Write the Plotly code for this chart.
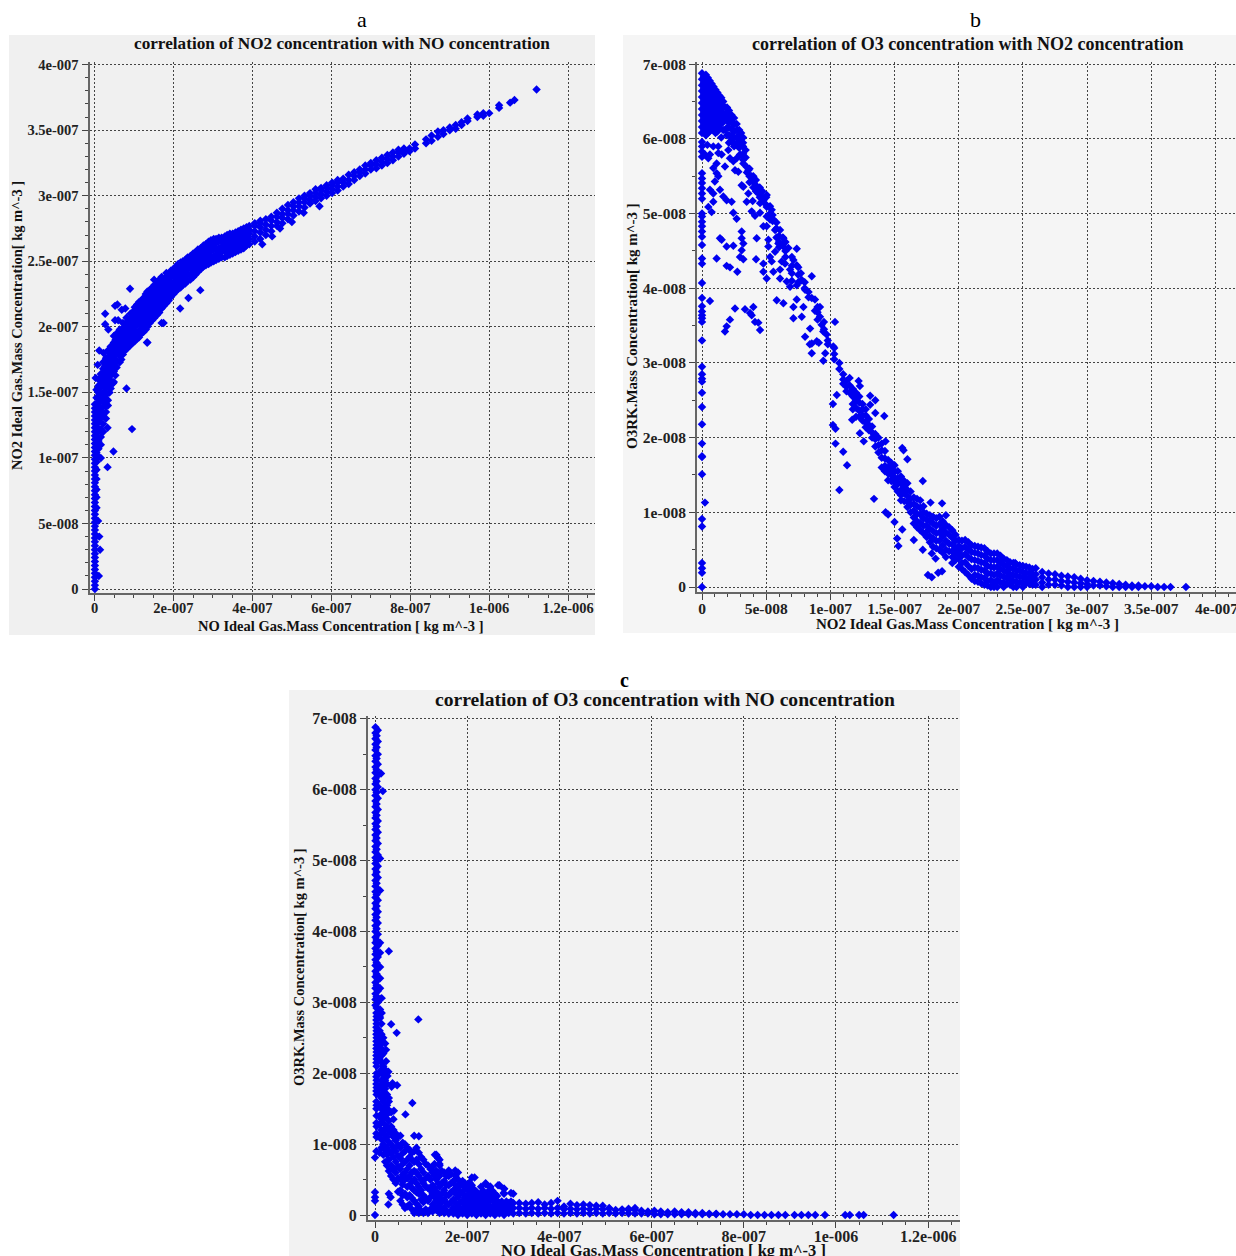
import plotly.graph_objects as go

W, H = 1236, 1256
UNIT = 1e-8  # all lists below are in units of 1e-8 kg m^-3

# ---------- Panel a : NO (x) vs NO2 (y) ----------
a_column = [(0.1,[0,0.3,0.6,0.9,1.2,1.5,1.8,2.1,2.4,2.7,3.0,3.3,3.6,3.9,4.2,4.5,4.8,5.1,5.4,5.7,6,6.3,6.6,6.9,7.2,7.5,7.8,8.1,8.4,8.7,9,9.3,9.6,9.9,10.2,10.5,10.8,11.1,11.4,11.7,12,12.3,12.6,12.9,13.2,13.5,13.8,14.1]),
            (0.5,[6.2,7,7.6,8.4,9.1,9.7,10.4,11,11.6,12.4,12.9,13.5,14.1,14.6,15.2]),
            (1.0,[10.1,10.7,11.3,12,12.7,13.3,13.9,14.5,15,15.5,16]),
            (1.6,[10,11,11.6,12.2,13,13.6,14.3,14.9,15.4,15.9,16.4]),
            (2.2,[12,12.6,13.2,13.9,14.5,15,15.6,16.2,16.8,17.3]),
            (2.9,[13,13.5,14,14.8,15.3,15.9,16.5,17,17.6]),
            (3.4,[14,14.4,15.5,16,16.6,17.1,17.7,18.2]),
            (4.1,[15.3,15.9,16.4,17,17.5,18,18.5]),
            (4.9,[15.8,16.6,17.2,17.7,18.2,18.8,19.3]),
            (5.6,[16.9,17.4,18,18.5,19,19.5]),
            (6.4,[17.3,17.8,18.3,18.8,19.3,19.8]),
            (7.2,[17.9,18.4,18.9,19.4,19.9,20.3]),
            (8.1,[18.3,18.8,19.3,19.8,20.3,20.7]),
            (9.1,[18.6,19.1,19.6,20.1,20.6,21]),
            (10.2,[18.9,19.5,20,20.5,21,21.5]),
            (11.3,[19.2,19.7,20.3,20.8,21.3,21.9]),
            (12.4,[19.6,20.1,20.6,21.2,21.7,22.2]),
            (13.4,[18.8,20,20.6,21.1,21.7,22.2,22.7]),
            (14.6,[20.5,21,21.5,22,22.5,23]),
            (15.8,[20.9,21.4,21.9,22.4,22.9,23.4]),
            (17,[20.3,21.4,21.9,22.4,22.9,23.4,23.8]),
            (18.2,[21.8,22.3,22.8,23.3,23.8,24.1]),
            (19.4,[22.3,22.8,23.3,23.8,24.3]),
            (20.6,[22.7,23.2,23.7,24.2,24.6]),
            (21.8,[23,23.5,24,24.5,24.9]),
            (23,[23.3,23.8,24.2,24.7,25.1]),
            (24.3,[23.6,24,24.5,25,25.4]),
            (25.6,[24,24.4,24.8,25.3,25.7]),
            (26.9,[24.4,24.8,25.2,25.7,26]),
            (28.2,[24.7,25.1,25.5,25.9,26.3]),
            (29.5,[24.9,25.3,25.8,26.2,26.6]),
            (30.8,[25.1,25.5,26,26.4,26.7]),
            (32.2,[25.3,25.7,26.1,26.5,26.8]),
            (33.6,[25.4,25.8,26.2,26.6,27]),
            (35,[25.6,26,26.4,26.8,27.1]),
            (36.4,[25.8,26.2,26.6,27,27.3]),
            (37.8,[26,26.4,26.8,27.2,27.5]),
            (39.2,[26.3,26.7,27.1,27.4,27.7])]
a_fill = [(2.6,[14.2,15,15.7,16.4,17]),(3.8,[15,15.7,16.2,16.8,17.4,18]),(5.3,[16.3,17,17.5,18,18.5,19]),
          (6.8,[17.5,18,18.6,19.1,19.6]),(7.7,[18.2,18.7,19.2,19.7,20.2]),(8.6,[18.5,19,19.5,20,20.5]),
          (9.7,[18.8,19.3,19.8,20.3,20.8]),(10.8,[19.1,19.6,20.2,20.7,21.2,21.7]),(11.9,[19.5,20,20.5,21,21.5,22]),
          (13,[19.8,20.3,20.9,21.4,22,22.5]),(14,[20.3,20.8,21.3,21.8,22.3,22.8]),(15.2,[20.7,21.2,21.7,22.2,22.7,23.2]),
          (16.4,[21.1,21.6,22.1,22.6,23.1,23.6]),(17.6,[21.6,22.1,22.6,23.1,23.6]),(18.8,[22,22.5,23,23.5,24]),
          (20,[22.5,23,23.4,24,24.4]),(21.2,[22.9,23.4,23.8,24.3,24.8]),(22.4,[23.2,23.6,24.1,24.6,25]),
          (23.6,[23.5,24,24.4,24.8,25.3]),(25,[23.8,24.2,24.7,25.2,25.6]),(26.2,[24.2,24.6,25,25.5,25.9]),
          (27.6,[24.6,25,25.4,25.8,26.2]),(28.9,[24.8,25.2,25.6,26,26.5]),(30.2,[25,25.4,25.9,26.3,26.7]),
          (31.5,[25.2,25.6,26,26.5,26.8]),(33,[25.3,25.8,26.2,26.6,26.9]),(34.3,[25.5,25.9,26.3,26.7,27.1]),
          (35.7,[25.7,26.1,26.5,26.9,27.2]),(37.1,[25.9,26.3,26.7,27.1,27.4]),(38.5,[26.2,26.5,26.9,27.3,27.6])]
a_band = [(40.6,[26.5,26.9,27.3,27.7,27.9]),(42,[26.7,27.2,27.6,27.9,28.1]),
          (43.4,[27,27.4,27.8,28.2]),(44.8,[27.3,27.7,28.1,28.4]),(46.2,[27.7,28,28.4,28.7]),
          (47.6,[27.9,28.3,28.6,29]),(49,[28.2,28.6,28.9,29.3]),(50.4,[28.5,28.9,29.2,29.5]),
          (51.8,[28.8,29.2,29.5,29.8]),(53.2,[29.1,29.5,29.8,30]),(54.6,[29.4,29.7,30,30.2]),
          (56,[29.6,29.9,30.2,30.5]),(57.4,[29.8,30.1,30.4,30.6]),(58.8,[30,30.3,30.6,30.8]),
          (60.2,[30.2,30.5,30.8,31]),(61.6,[30.4,30.7,31,31.2]),(63,[30.7,31,31.3]),
          (64.4,[30.9,31.2,31.6]),(65.8,[31.2,31.5,31.8]),(67.2,[31.5,31.8,32]),
          (68.6,[31.7,32,32.3]),(70,[32,32.3,32.5]),(71.4,[32.1,32.4,32.7]),
          (72.8,[32.3,32.6,32.9]),(74.2,[32.5,32.8,33.1]),(75.6,[32.7,33,33.3]),
          (77,[33,33.3,33.5]),(78.4,[33.2,33.4,33.6]),(79.8,[33.4,33.6]),(81.2,[33.6,33.9]),
          (84,[34,34.3]),(85.4,[34.2,34.6]),(87,[34.5,34.9]),(88.4,[34.7,35]),
          (90,[35,35.2]),(91.5,[35.1,35.4]),(93,[35.4,35.6]),(94.5,[35.7,35.9]),
          (97,[36,36.2]),(98.5,[36.1,36.3]),(100,[36.3]),(102.5,[36.7,36.9]),
          (105.3,[37.1]),(106.4,[37.3]),(112,[38.1])]
a_outliers = [(1.1,1.0),(1.4,3.0),(1.2,4.0),(0.9,5.2),(3.3,9.3),(4.8,10.5),(9.5,12.2),(3.3,12.3),
              (8.1,15.3),(4.7,15.7),(2.7,21),(2.7,20.2),(3.5,19.8),(5.2,20.5),(5.8,21.7),(5.2,21.6),
              (1.2,18.2),(0.8,17.1),(2.3,18),(0.3,16.1),(6.9,21.3),(7.8,21.4),(9.9,21.2),(9.2,20.3),
              (6,20.5),(9,22.9),(15.1,23.6),(21.7,21.4),(23.8,22.2),(26.8,22.8),(17.5,20.3),(13.3,18.8),
              (42.5,26.3),(45,26.9),(47,27.5),(50,28),(53,28.7),(57,29.2)]

# ---------- Panel b : NO2 (x) vs O3 (y) ----------
b_column = [(0,[5.96,5.9,5.83,5.76,5.54,5.47,5.41,5.34,5.27,5.2,5.0,4.96,4.89,4.83,4.76,4.69,4.58,4.4,4.33,
                4.07,3.87,3.76,3.69,3.64,3.6,3.55,3.3,2.95,2.85,2.79,2.75,2.6,2.41,2.18,1.92,1.75,1.74,1.51,
                .91,.81,.32,.25,.19,0])]
b_top = [(0,[6.88,6.8,6.72,6.64,6.56,6.48,6.4,6.32,6.24,6.16,6.08]),
         (0.3,[6.86,6.78,6.7,6.62,6.54,6.46,6.38,6.3,6.22,6.14,6.05]),
         (0.6,[6.78,6.7,6.62,6.54,6.44,6.36,6.28,6.2,6.1]),
         (0.9,[6.7,6.62,6.54,6.46,6.38,6.3,6.22,6.14]),
         (1.2,[6.62,6.56,6.46,6.38,6.3,6.18,6.1]),
         (1.5,[6.55,6.48,6.4,6.28,6.2,6.02]),
         (1.8,[6.42,6.32,6.25,6.12]),
         (2.1,[6.38,6.3,6.22,6.15,6.05,5.95]),
         (2.5,[6.28,6.2,6.1,6.02,5.9]),
         (2.9,[6.12,6.05,5.97,5.88]),
         (3.2,[6.02,5.95,5.9,5.8,5.72]),
         (3.5,[5.62,5.55]),(4,[5.5,5.42,5.35]),(4.5,[5.35,5.28,5.22]),(5,[5.22,5.12]),
         (5.5,[4.98,4.9]),(6,[4.7,4.62,4.55]),(6.5,[4.62,4.5,4.42]),(7,[4.42,4.3,4.2,4.1]),
         (7.5,[4.28,4.18,4.08]),(8,[4.08,4.0]),(9,[3.75,3.68,3.58]),(9.5,[3.55,3.45])]
b_top_fill = [(0.15,[6.84,6.76,6.68,6.6,6.52,6.44,6.36,6.28,6.2,6.12]),(0.45,[6.82,6.74,6.66,6.58,6.5,6.42,6.34,6.26,6.18,6.08]),
              (0.75,[6.74,6.66,6.58,6.5,6.4,6.32,6.24,6.15]),(1.05,[6.66,6.58,6.5,6.42,6.34,6.26,6.16,6.08]),
              (1.35,[6.58,6.5,6.42,6.34,6.24,6.14]),(1.65,[6.5,6.44,6.34,6.24,6.12]),(1.95,[6.42,6.34,6.26,6.15,6.05]),
              (2.3,[6.32,6.24,6.14,6.05,5.98]),(2.7,[6.2,6.12,6.02,5.94]),(3.05,[6.08,6,5.92]),
              (3.4,[5.85,5.75]),(3.7,[5.6,5.5,5.42]),(4.2,[5.45,5.38,5.3]),(4.7,[5.3,5.22]),(5.3,[5.1,5,4.92]),
              (5.8,[4.88,4.8,4.68]),(6.3,[4.68,4.6]),(7.7,[4.2,4.1]),(8.3,[3.95,3.88]),(8.8,[3.85,3.7]),(9.8,[3.3,3.25])]
b_scatter = [(.42,5.92),(.88,5.9),(1.27,5.9),(.62,5.79),(.23,5.79),(.49,5.74),(1.27,5.81),(1.53,5.79),(.88,5.61),
             (1.14,5.67),(1.79,5.63),(2.44,5.7),(2.57,5.58),(2.83,5.56),(2.7,5.74),(2.18,5.74),(2.05,5.85),(2.44,5.94),
             (2.96,5.99),(2.96,5.79),(3.22,5.76),(3.22,5.67),(3.61,5.58),(3.87,5.5),(4,5.45),(4.26,5.34),(4.39,5.27),
             (5.04,5.25),(4.78,5.18),(4.52,5.14),(5.04,5.09),(5.43,5.05),(5.04,4.96),(5.56,4.92),(5.69,4.78),(6.08,4.78),
             (6.34,4.67),(5.95,4.6),(6.34,4.56),(6.73,4.54),(7.38,4.53),(5.69,4.49),(5.3,4.42),(4.78,4.33),(5.43,4.36),
             (6.21,4.36),(6.47,4.33),(7.12,4.38),(7.38,4.31),(6.86,4.25),(6.08,4.25),(4.78,4.22),(5.04,4.13),(5.56,4.22),
             (6.08,4.13),(6.6,4.09),(6.86,4.02),(7.38,4.04),(7.77,4.11),(8.03,3.98),(8.55,4.16),(5.82,3.84),(6.34,3.8),
             (7.12,3.75),(7.38,3.85),(7.9,3.75),(8.55,3.87),(9.19,3.75),(7.12,3.6),(7.77,3.62),(8.42,3.46),(9.19,3.62),
             (9.32,3.51),(9.45,3.42),(10.36,3.55),(8.03,3.35),(8.55,3.26),(8.94,3.29),(9.71,3.38),(10.23,3.22)]
b_inner = [(1.14,5.54),(1.27,5.5),(1,5.43),(.62,5.32),(.88,5.27),(1.4,5.32),(1.66,5.23),(1.92,5.18),(2.31,5.16),
           (.49,5.09),(.88,5.16),(.75,5.02),(2.44,5.01),(2.7,4.93),(3.09,4.76),(3.09,4.67),(3.22,4.6),(3.09,4.51),
           (2.96,4.42),(3.22,4.39),(4.26,4.67),(1.4,4.67),(1.53,4.65),(1.92,4.56),(2.44,4.57),(1.14,4.4),(1.92,4.3),
           (2.18,4.28),(2.75,4.22),(4.21,4.39),(.62,3.83),(2.57,3.73),(2.18,3.58),(1.92,3.49),(1.79,3.42),(3.35,3.72),
           (3.74,3.67),(4,3.75),(3.87,3.64),(4.13,3.55),(4.52,3.44),(4.39,3.54),(3.22,5.36),(3.09,5.38),(3.61,5.27),
           (3.48,5.16),(3.95,5.17),(3.87,5.03),(4.13,4.97),(4.52,5.01),(4.78,4.83),(5.04,4.83),(5.17,4.65),(5.17,4.56)]
b_band = [(10.3,[3.2,3.12,3.05]),(10.7,[3.0,2.92]),(11,[2.85,2.78,2.72]),(11.5,[2.8,2.7,2.6]),
          (12,[2.6,2.5,2.4,2.28]),(12.5,[2.45,2.38,2.3,2.23]),(13,[2.25,2.17,2.1]),
          (13.5,[2.05,1.98,1.88]),(14,[1.92,1.83,1.73,1.6]),(14.5,[1.7,1.6,1.52,1.43]),
          (15,[1.63,1.55,1.47,1.4,1.34]),(15.5,[1.48,1.39,1.3,1.23,1.16]),(16,[1.39,1.3,1.22,1.14,1.07]),
          (16.5,[1.2,1.11,1.02,.93,.85]),(17,[1.16,1.06,.97,.86,.76]),(17.5,[.98,.9,.82,.74,.67]),
          (18,[.94,.85,.75,.65,.54]),(18.5,[.94,.84,.73,.62,.5]),(19,[.83,.73,.62,.5,.4]),
          (19.5,[.76,.66,.57,.48,.4]),(20,[.63,.55,.47,.38,.27]),(20.5,[.63,.54,.44,.33,.2]),
          (21,[.56,.47,.37,.24,.11]),(21.5,[.54,.45,.35,.25,.15,.07]),(22,[.52,.42,.32,.22,.12,.03]),
          (22.5,[.45,.36,.27,.18,.09,0]),(23,[.45,.36,.27,.18,.09,0]),(23.5,[.38,.3,.22,.14,.06,0]),
          (24,[.33,.25,.17,.1,.03]),(24.5,[.3,.22,.15,.07,0]),(25,[.28,.2,.13,.06,0]),
          (25.5,[.26,.18,.11,.04]),(26,[.25,.17,.1,.03]),(26.5,[.2,.13,.06,0]),(27,[.18,.1,.03]),
          (27.5,[.17,.1,.03]),(28,[.15,.08,.02]),(28.5,[.14,.07,0]),(29,[.13,.06,0]),(29.5,[.11,.05,0]),
          (30,[.09,.04,0]),(30.5,[.08,.02]),(31,[.07,.02]),(31.5,[.06,.01]),(32,[.05,0]),(32.5,[.04,0]),
          (33,[.03,0]),(33.5,[.02,0]),(34,[.02,0]),(34.5,[.01]),(35,[.01]),(35.5,[0]),(36,[0]),(36.5,[0]),(37.7,[0])]
b_band_fill = [(11.25,[2.76,2.68,2.62]),(11.75,[2.65,2.55,2.45,2.38]),(12.25,[2.55,2.47,2.36,2.28]),(12.75,[2.38,2.3,2.2,2.14]),
               (13.25,[2.15,2.07,2]),(13.75,[2,1.9,1.8]),(14.25,[1.82,1.72,1.62,1.55]),(14.75,[1.66,1.58,1.5,1.42]),
               (15.25,[1.55,1.45,1.38,1.28]),(15.75,[1.42,1.34,1.26,1.15]),(16.25,[1.28,1.18,1.1,1]),(16.75,[1.18,1.08,.98,.88,.8]),
               (17.25,[1.08,1,.92,.82,.72]),(17.75,[.96,.88,.78,.68,.6]),(18.25,[.92,.82,.72,.62,.52]),(18.75,[.88,.78,.68,.56,.46]),
               (19.25,[.8,.7,.58,.48]),(19.75,[.7,.62,.52,.44,.36]),(20.25,[.62,.52,.42,.32,.24]),(20.75,[.6,.5,.4,.28,.16]),
               (21.25,[.55,.46,.36,.26,.16,.08]),(21.75,[.53,.43,.33,.23,.13,.05]),(22.25,[.48,.38,.28,.18,.08,.02]),
               (22.75,[.45,.36,.26,.16,.06,0]),(23.25,[.42,.33,.24,.15,.06]),(23.75,[.36,.28,.2,.12,.04]),(24.25,[.32,.24,.16,.08,0]),
               (24.75,[.29,.22,.14,.06]),(25.25,[.27,.19,.12,.05]),(25.75,[.24,.17,.1,.03])]
b_outliers = [(.23,1.13),(9.45,3.03),(9.6,3.13),(8.4,3.25),(8.55,3.13),(9.1,3.27),(10.2,2.45),(10.5,2.57),(10.2,2.17),
              (10.4,2.12),(10.4,1.92),(11,1.81),(11.3,1.63),(10.7,1.3),(13.4,1.18),(14.3,1),(14.5,.97),(15,.87),(15.6,.77),
              (15.2,.65),(15.3,.55),(16.5,.63),(17.2,.5),(17.2,1.42),(17.8,1.13),(18.7,1.12),(19,.96),(17.9,.45),(18.2,.38),
              (17.6,.16),(17.9,.13),(18.4,.19),(18.7,.21),(19.5,.32),(24.4,.32),(13.1,2.56),(12.2,2.76),(12.3,2.69),(13.1,2.44),
              (13.5,2.5),(13.5,2.33),(14.2,2.29),(14.3,1.95),(15.6,1.86),(15.7,1.83),(16,1.71),(11.7,2.24),(12.6,1.95),(12.3,2.06)]

# ---------- Panel c : NO (x) vs O3 (y) ----------
c_column = [(0.1,[6.88,6.8,6.72,6.64,6.56,6.48,6.4,6.32,6.24,6.16,6.08,6,5.92,5.84,5.76,5.68,5.6,5.52,5.44,5.36,5.28,5.2,5.12,5.04,4.96,4.88,4.8,4.72,4.64,4.56,4.48,4.4,4.32,4.24,4.16,4.08,4,3.92,3.84,3.76,3.68,3.6,3.52,3.44,3.36,3.28,3.2,3.12,3.04,2.96]),
            (0.6,[6.84,6.68,6.5,6.36,6.2,6.04,5.88,5.72,5.56,5.4,5.24,5.08,4.92,4.76,4.6,4.44,4.28,4.12,3.96,3.8,3.64,3.48,3.32,3.16,3,2.84]),
            (1.1,[5.03,4.58,3.84,3.7,3.5,3.34,3.2,3.05,2.9,2.78]),
            (0,[.32,.25,.2,0,.81])]
c_dense = [(0.3,[.9,1.15,1.3,1.5,1.6,1.75,1.85,1.95,2.15,2.25,2.35,2.45,2.55,2.65,2.75,2.85]),
           (1,[.88,1.13,1.28,1.4,1.55,1.7,1.82,2.0,2.2,2.3,2.4,2.5,2.6,2.8]),
           (1.8,[.85,1.0,1.15,1.3,1.45,1.6,1.72,1.85,1.98,2.1,2.28,2.5]),
           (2.6,[.7,.85,.95,1.1,1.25,1.42,1.55,1.7,1.85]),
           (3.5,[.55,.7,.88,1.0,1.15,1.25,1.45]),(4.5,[.45,.6,.75,.9,1.05,1.15]),
           (5.5,[.2,.35,.5,.65,.8,.95,1.12]),(6.5,[.1,.3,.5,.6,.75,.9,1.0]),
           (7.5,[.15,.28,.42,.55,.7,.82,.92]),(8.5,[.03,.2,.35,.5,.62,.75,.9,1.12]),
           (9.5,[.03,.12,.3,.4,.55,.72,.88,1.11]),(10.5,[.03,.18,.28,.45,.6,.78]),
           (11.5,[.03,.2,.38,.55,.7]),(12.5,[.05,.15,.3,.42,.6,.68]),
           (13.3,[.07,.2,.33,.5,.62,.85]),(14,[.03,.12,.24,.4,.55,.7,.78]),
           (15,[.03,.1,.22,.35,.48,.6]),(16,[.02,.15,.28,.42,.55,.63]),(17,[.02,.1,.22,.35,.48]),
           (18,[0,.12,.25,.38,.5,.6]),(19,[.02,.1,.2,.3,.42,.48]),(20,[0,.08,.18,.28,.38]),
           (21,[.02,.1,.2,.3,.42,.53]),(22,[0,.07,.17,.27,.33]),(23,[.02,.1,.2,.3,.4]),
           (24,[0,.08,.18,.28,.45]),(25,[.02,.1,.2,.28,.4]),(26,[0,.07,.15,.25,.3]),
           (27,[.02,.1,.17,.42]),(28,[0,.08,.15,.3,.37]),(29,[.03,.1,.17]),(30,[.02,.1,.17,.3])]
c_fill = [(0.35,[6.76,6.6,6.44,6.28,6.12,5.96,5.8,5.64,5.48,5.32,5.16,5,4.84,4.68,4.52,4.36,4.2,4.04,3.88,3.72,3.56,3.4,3.24,3.08,2.92,2.8,2.7,2.6,2.5,2.4,2.3,2.2,2.1,2,1.9,1.8,1.7,1.55,1.4,1.25,1.1]),
          (1.4,[.95,1.07,1.2,1.35,1.5,1.65,1.78,1.9,2.05,2.15,2.25,2.35,2.45,2.55,2.7]),
          (2.2,[.75,.92,1.08,1.22,1.38,1.52,1.66,1.78,1.9,2.05]),(3,[.62,.78,.9,1.03,1.18,1.33,1.48,1.6]),
          (4,[.5,.65,.82,.95,1.1,1.2,1.35]),(5,[.33,.52,.68,.83,.98,1.1]),(6,[.15,.28,.43,.57,.72,.87,1.02]),
          (7,[.12,.25,.4,.52,.65,.78,.95]),(8,[.08,.24,.38,.47,.6,.78,.88]),(9,[.08,.16,.32,.45,.6,.78,.95]),
          (10,[.06,.22,.35,.5,.65,.82]),(11,[.08,.24,.4,.52,.72]),(12,[.08,.25,.35,.5,.65]),(12.9,[.12,.25,.38,.55,.72]),
          (13.7,[.08,.18,.3,.45,.6,.8]),(14.5,[.08,.18,.3,.45,.62]),(15.5,[.06,.17,.28,.42,.55]),(16.5,[.06,.18,.32,.45,.58]),
          (17.5,[.06,.17,.3,.42,.55]),(18.5,[.06,.18,.32,.44]),(19.5,[.06,.15,.25,.36,.45]),(20.5,[.05,.13,.24,.34,.46]),
          (21.5,[.04,.14,.24,.36]),(22.5,[.04,.12,.22,.3]),(23.5,[.05,.14,.24,.34]),(24.5,[.04,.13,.23,.33]),
          (25.5,[.04,.12,.22,.28,.34]),(26.5,[.04,.12,.2,.27]),(27.5,[.05,.12,.19]),(28.5,[.05,.12,.19]),(29.5,[.05,.12,.19])]
c_tail = [(31.3,[.03,.1,.17]),(32.7,[.02,.09,.16]),(34,[.03,.1,.17]),(35.4,[.02,.09,.18]),(36.8,[.03,.1,.15]),
          (38.2,[.02,.09,.17]),(39.6,[.03,.1,.2]),(41,[.02,.08,.12]),(42.4,[.03,.09,.16]),(43.8,[.02,.08,.14]),
          (45.2,[.03,.09,.15]),(46.6,[.02,.08,.14]),(48,[.03,.09,.13]),(49.4,[.02,.08,.13]),(50.8,[.03,.09,.1]),
          (52.2,[.02,.07]),(53.6,[.03,.08]),(55,[.02,.07,.09]),(56.4,[.02,.07,.1]),(57.8,[.02,.06]),(59.2,[.02,.05]),
          (60.6,[.01,.06]),(62,[.01,.05]),(63.5,[.01,.04]),(65,[.01,.05]),(66.5,[.01,.04]),(68,[.01,.04]),(69.5,[.01,.03]),
          (71,[.01,.03]),(72.5,[.01,.02]),(74,[.01,.02]),(75.5,[.01]),(77,[.01]),(78.5,[.01]),(80,[.01]),(81.5,[0]),(83,[0]),
          (84.5,[0]),(86,[0]),(87.5,[0]),(89,[0]),(91,[0]),(92.5,[0]),(94,[0]),(95.5,[0]),(97.6,[0]),(102,[0]),(103,[0]),
          (105,[0]),(106,[0]),(112.5,[0])]
c_outliers = [(1.3,6.23),(1.7,5.98),(3,3.72),(9.4,2.76),(4.7,2.57),(3.5,2.69),(1.45,3.06),(1.45,2.85),(2.2,2.42),(2.4,2.33),
              (2.4,2.17),(2.9,2.02),(2.7,1.96),(3.8,1.86),(3.6,1.81),(4.8,1.83),(3,1.65),(8.1,1.58),(6.6,1.42),(4.1,1.47),
              (13,.85),(13.4,.83),(14,.72),(17.4,.63),(21.6,.53),(24.1,.43),(25,.4),(26.7,.42),(28,.37),(27.9,.31),(29.5,.31),
              (3,.3),(3.4,.25),(2.9,.15)]

# ---------- labels ----------
a_xticks = [0,20,40,60,80,100,120]
a_xlabels = ["0","2e-007","4e-007","6e-007","8e-007","1e-006","1.2e-006"]
a_yticks = [0,5,10,15,20,25,30,35,40]
a_ylabels = ["0","5e-008","1e-007","1.5e-007","2e-007","2.5e-007","3e-007","3.5e-007","4e-007"]
b_xticks = [0,5,10,15,20,25,30,35,40]
b_xlabels = ["0","5e-008","1e-007","1.5e-007","2e-007","2.5e-007","3e-007","3.5e-007",""]
b_yticks = [0,1,2,3,4,5,6,7]
b_ylabels = ["0","1e-008","2e-008","3e-008","4e-008","5e-008","6e-008","7e-008"]


def expand(cols=(), pairs=()):
    xs, ys = [], []
    for x, col in cols:
        for y in col:
            xs.append(x * UNIT)
            ys.append(y * UNIT)
    for x, y in pairs:
        xs.append(x * UNIT)
        ys.append(y * UNIT)
    return xs, ys


ax, ay = expand(a_column + a_fill + a_band, a_outliers)
bx, by = expand(b_column + b_top + b_top_fill + b_band + b_band_fill, b_scatter + b_inner + b_outliers)
cx, cy = expand(c_column + c_dense + c_fill + c_tail, c_outliers)

panels = [
    dict(box=(89.5, 593, 595, 62), bg=(9, 35, 595, 635), bgc="#f0f0f0", xr=(-1.27, 126.8), yr=(-0.3, 40.2),
         xt=a_xticks, xl=a_xlabels, yt=a_yticks, yl=a_ylabels, xm=5, ym=1, xmax=125, ymax=40, fs=14.5,
         pts=(ax, ay)),
    dict(box=(697, 592, 1236, 62), bg=(623, 35, 1236, 633), bgc="#f5f5f5", xr=(-0.39, 41.6), yr=(-0.067, 7.03),
         xt=b_xticks, xl=b_xlabels, yt=b_yticks, yl=b_ylabels, xm=1, ym=0.5, xmax=41, ymax=7, fs=15.5,
         pts=(bx, by)),
    dict(box=(368, 1220, 960, 716), bg=(289, 690, 960, 1256), bgc="#f2f2f2", xr=(-1.52, 126.9), yr=(-0.07, 7.04),
         xt=a_xticks, xl=a_xlabels, yt=b_yticks, yl=b_ylabels, xm=5, ym=0.5, xmax=125, ymax=7, fs=16,
         pts=(cx, cy)),
]

fig = go.Figure()
layout = dict(width=W, height=H, margin=dict(l=0, r=0, t=0, b=0, autoexpand=False), paper_bgcolor="white",
              plot_bgcolor="rgba(0,0,0,0)", showlegend=False,
              font=dict(family="Liberation Serif", color="#111"))
shapes = []
for i, p in enumerate(panels, start=1):
    l, b, r, t = p["box"]
    sfx = "" if i == 1 else str(i)
    fs = p["fs"]
    tfont = dict(family="Liberation Serif", size=fs, weight="bold", color="#222")

    def minors(step, top):
        n = int(round(top / step))
        return [k * step * UNIT for k in range(n + 1)]

    common = dict(showgrid=True, gridcolor="#444", gridwidth=1, griddash="2px,2px", zeroline=False,
                  showline=True, linecolor="#666", linewidth=2, ticks="outside", ticklen=6, tickwidth=1,
                  tickcolor="#444", tickfont=tfont, tickmode="array")
    layout["xaxis" + sfx] = dict(domain=[l / W, r / W], anchor="y" + sfx,
                                 range=[v * UNIT for v in p["xr"]],
                                 tickvals=[v * UNIT for v in p["xt"]], ticktext=p["xl"], ticklabelstandoff=-5,
                                 minor=dict(tickmode="array", tickvals=minors(p["xm"], p["xmax"]), ticks="outside",
                                            ticklen=3, tickcolor="#444", showgrid=False),
                                 **common)
    layout["yaxis" + sfx] = dict(domain=[1 - b / H, 1 - t / H], anchor="x" + sfx,
                                 range=[v * UNIT for v in p["yr"]],
                                 tickvals=[v * UNIT for v in p["yt"]], ticktext=p["yl"],
                                 minor=dict(tickmode="array", tickvals=minors(p["ym"], p["ymax"]), ticks="outside",
                                            ticklen=3, tickcolor="#444", showgrid=False),
                                 **common)
    x0, y0, x1, y1 = p["bg"]
    shapes.append(dict(type="rect", xref="paper", yref="paper", layer="below", x0=x0 / W, x1=x1 / W,
                       y0=1 - y0 / H, y1=1 - y1 / H, fillcolor=p["bgc"], line=dict(width=0)))
    fig.add_trace(go.Scatter(x=p["pts"][0], y=p["pts"][1], mode="markers", xaxis="x" + sfx, yaxis="y" + sfx,
                             marker=dict(symbol="diamond", size=6.5, color="#0000f0", line=dict(width=0))))

layout["shapes"] = shapes


def label(text, px, py, size, bold=True, angle=0, color="#111"):
    return dict(text=text, x=px / W, y=1 - py / H, xref="paper", yref="paper", showarrow=False,
                xanchor="center", yanchor="middle", textangle=angle,
                font=dict(family="Liberation Serif", size=size, weight="bold" if bold else "normal", color=color))


layout["annotations"] = [
    label("a", 362, 20, 22, bold=False, color="black"),
    label("b", 975, 20, 22, bold=False, color="black"),
    label("c", 624, 680, 20, color="black"),
    label("correlation of NO2 concentration with NO concentration", 342, 44, 17.2),
    label("correlation of O3 concentration with NO2 concentration", 968, 44, 18),
    label("correlation of O3 concentration with NO concentration", 664.5, 699, 19.6),
    label("NO Ideal Gas.Mass Concentration [ kg m^-3 ]", 340.5, 626, 14.5),
    label("NO2 Ideal Gas.Mass Concentration[ kg m^-3 ]", 17, 326, 14.5, angle=-90),
    label("NO2 Ideal Gas.Mass Concentration [ kg m^-3 ]", 967.5, 624, 15),
    label("O3RK.Mass Concentration[ kg m^-3 ]", 632, 326, 15, angle=-90),
    label("NO Ideal Gas.Mass Concentration [ kg m^-3 ]", 664, 1250, 16.5),
    label("O3RK.Mass Concentration[ kg m^-3 ]", 299, 967, 14.5, angle=-90),
    label("4e-007", 1216, 608, 15.5, color="#222"),
]
fig.update_layout(**layout)
fig.write_html("out.html", config=dict(displayModeBar=False),
               post_script="document.body.style.margin='0';")
